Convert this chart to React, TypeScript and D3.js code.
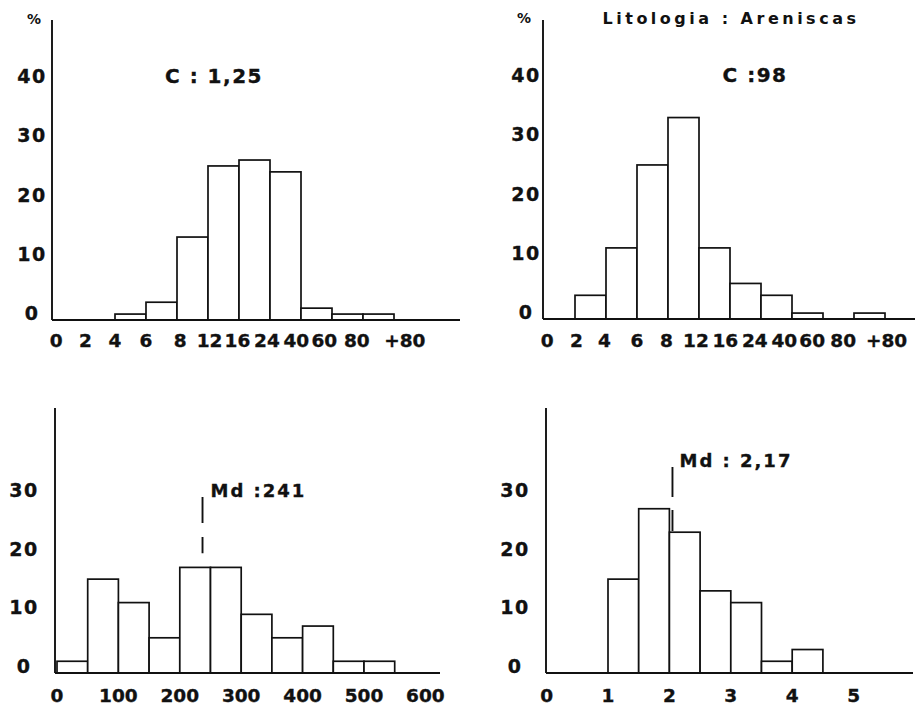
import React from "react";
import * as d3 from "d3";

// ---------- DATA ----------
const classLabels = ["0", "2", "4", "6", "8", "12", "16", "24", "40", "60", "80", "+80"];
// tick label positions (in class-index units) as read from the hand lettering
const classTickPosC125 = [0.1, 1.05, 2, 3, 4.1, 5.05, 5.95, 6.9, 7.85, 8.75, 9.8, 11.35];
const classTickPosC98 = [0.1, 1.05, 1.95, 3, 3.95, 4.9, 5.85, 6.8, 7.75, 8.65, 9.65, 11.05];
// % per class (0-2, 2-4, 4-6, 6-8, 8-12, 12-16, 16-24, 24-40, 40-60, 60-80, 80-+80)
const pctC125 = [0, 0, 1, 3, 14, 26, 27, 25, 2, 1, 1];
const pctC98 = [0, 4, 12, 26, 34, 12, 6, 4, 1, 0, 1];
const topYTicks = [0, 10, 20, 30, 40];

// Md 241 histogram (bins of 50)
const md241Starts = [0, 50, 100, 150, 200, 250, 300, 350, 400, 450, 500];
const md241Pct = [2, 16, 12, 6, 18, 18, 10, 6, 8, 2, 2];
const md241Ticks = [0, 100, 200, 300, 400, 500, 600];
const md241Marker = 237;

// Md 2,17 histogram (bins of 0.5)
const md217Starts = [1, 1.5, 2, 2.5, 3, 3.5, 4];
const md217Pct = [16, 28, 24, 14, 12, 2, 4];
const md217Ticks = [0, 1, 2, 3, 4, 5];
const md217Marker = 2.05;

const bottomYTicks = [0, 10, 20, 30];

const FONT = "'DejaVu Sans', sans-serif";
const INK = "#111";

type Bar = { x0: number; x1: number; v: number };

function Histogram(props: {
  bars: Bar[];
  x: d3.ScaleLinear<number, number>;
  y: d3.ScaleLinear<number, number>;
  axisX: number;
  axisTop: number;
  axisEnd: number;
  yTicks: number[];
  yLabelX: number;
  xTicks: { pos: number; label: string }[];
  xLabelY: number;
}) {
  const { bars, x, y, axisX, axisTop, axisEnd, yTicks, yLabelX, xTicks, xLabelY } = props;
  const base = y(0);
  return (
    <g>
      {bars
        .filter((b) => b.v > 0)
        .map((b, i) => (
          <rect
            key={i}
            x={x(b.x0)}
            y={y(b.v)}
            width={x(b.x1) - x(b.x0)}
            height={base - y(b.v)}
            fill="#fff"
            stroke={INK}
            strokeWidth={1.7}
          />
        ))}
      <line x1={axisX} x2={axisX} y1={axisTop} y2={base} stroke={INK} strokeWidth={1.9} />
      <line x1={axisX} x2={axisEnd} y1={base} y2={base} stroke={INK} strokeWidth={1.9} />
      {yTicks.map((t) => (
        <text
          key={t}
          x={yLabelX}
          y={y(t)}
          textAnchor="middle"
          fontFamily={FONT}
          fontWeight="bold"
          fontSize={19}
          letterSpacing={1.5}
          fill={INK}
          stroke={INK}
          strokeWidth={0.35}
        >
          {t}
        </text>
      ))}
      {xTicks.map((t, i) => (
        <text
          key={i}
          x={x(t.pos)}
          y={xLabelY}
          textAnchor="middle"
          fontFamily={FONT}
          fontWeight="bold"
          fontSize={18.5}
          fill={INK}
          stroke={INK}
          strokeWidth={0.35}
        >
          {t.label}
        </text>
      ))}
    </g>
  );
}

export default function App() {
  // Panel 1 (C : 1,25)
  const x1 = d3.scaleLinear().domain([0, 11]).range([53, 53 + 11 * 31]);
  const y1 = d3.scaleLinear().domain([0, 40]).range([320, 83]);
  const bars1 = pctC125.map((v, i) => ({ x0: i, x1: i + 1, v }));
  const ticks1 = classLabels.map((l, i) => ({ pos: classTickPosC125[i], label: l }));

  // Panel 2 (C : 98)
  const x2 = d3.scaleLinear().domain([0, 11]).range([544, 544 + 11 * 31]);
  const y2 = d3.scaleLinear().domain([0, 40]).range([319, 82]);
  const bars2 = pctC98.map((v, i) => ({ x0: i, x1: i + 1, v }));
  const ticks2 = classLabels.map((l, i) => ({ pos: classTickPosC98[i], label: l }));

  // Panel 3 (Md : 241)
  const x3 = d3.scaleLinear().domain([0, 600]).range([57, 57 + 12 * 30.7]);
  const y3 = d3.scaleLinear().domain([0, 30]).range([673, 497]);
  const bars3 = md241Starts.map((s, i) => ({ x0: s, x1: s + 50, v: md241Pct[i] }));
  const ticks3 = md241Ticks.map((t) => ({ pos: t, label: String(t) }));

  // Panel 4 (Md : 2,17)
  const x4 = d3.scaleLinear().domain([0, 1]).range([546.6, 546.6 + 61.4]);
  const y4 = d3.scaleLinear().domain([0, 30]).range([673, 497]);
  const bars4 = md217Starts.map((s, i) => ({ x0: s, x1: s + 0.5, v: md217Pct[i] }));
  const ticks4 = md217Ticks.map((t) => ({ pos: t, label: String(t) }));

  const textProps = {
    fontFamily: FONT,
    fontWeight: "bold" as const,
    fill: INK,
    stroke: INK,
    strokeWidth: 0.35,
  };

  return (
    <svg
      width={917}
      height={709}
      style={{ position: "absolute", left: 0, top: 0, background: "#fff" }}
    >
      <rect x={0} y={0} width={917} height={709} fill="#fff" />

      <Histogram
        bars={bars1}
        x={x1}
        y={y1}
        axisX={52}
        axisTop={20}
        axisEnd={460}
        yTicks={topYTicks}
        yLabelX={32}
        xTicks={ticks1}
        xLabelY={347}
      />
      <text x={34} y={24} textAnchor="middle" fontFamily={FONT} fontWeight="bold" fontSize={14} fill={INK}>
        %
      </text>
      <text x={214} y={y1(40)} textAnchor="middle" fontSize={20} letterSpacing={1.5} {...textProps}>
        C : 1,25
      </text>

      <Histogram
        bars={bars2}
        x={x2}
        y={y2}
        axisX={543}
        axisTop={20}
        axisEnd={915}
        yTicks={topYTicks}
        yLabelX={526}
        xTicks={ticks2}
        xLabelY={347}
      />
      <text x={524} y={23} textAnchor="middle" fontFamily={FONT} fontWeight="bold" fontSize={14} fill={INK}>
        %
      </text>
      <text
        x={731}
        y={24}
        textAnchor="middle"
        fontFamily={FONT}
        fontWeight="bold"
        fontSize={16}
        letterSpacing={3.5}
        fill={INK}
      >
        Litologia : Areniscas
      </text>
      <text x={755} y={y2(40)} textAnchor="middle" fontSize={20} letterSpacing={1.5} {...textProps}>
        C :98
      </text>

      <Histogram
        bars={bars3}
        x={x3}
        y={y3}
        axisX={55}
        axisTop={408}
        axisEnd={440}
        yTicks={bottomYTicks}
        yLabelX={24}
        xTicks={ticks3}
        xLabelY={702}
      />
      <line
        x1={x3(md241Marker)}
        x2={x3(md241Marker)}
        y1={y3(30)}
        y2={y3(20.4)}
        stroke={INK}
        strokeWidth={1.9}
        strokeDasharray="26 14"
      />
      <text x={x3(md241Marker) + 8} y={y3(30)} fontSize={18} letterSpacing={2} {...textProps}>
        Md :241
      </text>

      <Histogram
        bars={bars4}
        x={x4}
        y={y4}
        axisX={546}
        axisTop={408}
        axisEnd={913}
        yTicks={bottomYTicks}
        yLabelX={515}
        xTicks={ticks4}
        xLabelY={702}
      />
      <line
        x1={x4(md217Marker)}
        x2={x4(md217Marker)}
        y1={y4(35.1)}
        y2={y4(24.2)}
        stroke={INK}
        strokeWidth={1.9}
        strokeDasharray="30 13"
      />
      <text x={x4(md217Marker) + 7} y={y4(35.1)} fontSize={18} letterSpacing={2} {...textProps}>
        Md : 2,17
      </text>
    </svg>
  );
}
